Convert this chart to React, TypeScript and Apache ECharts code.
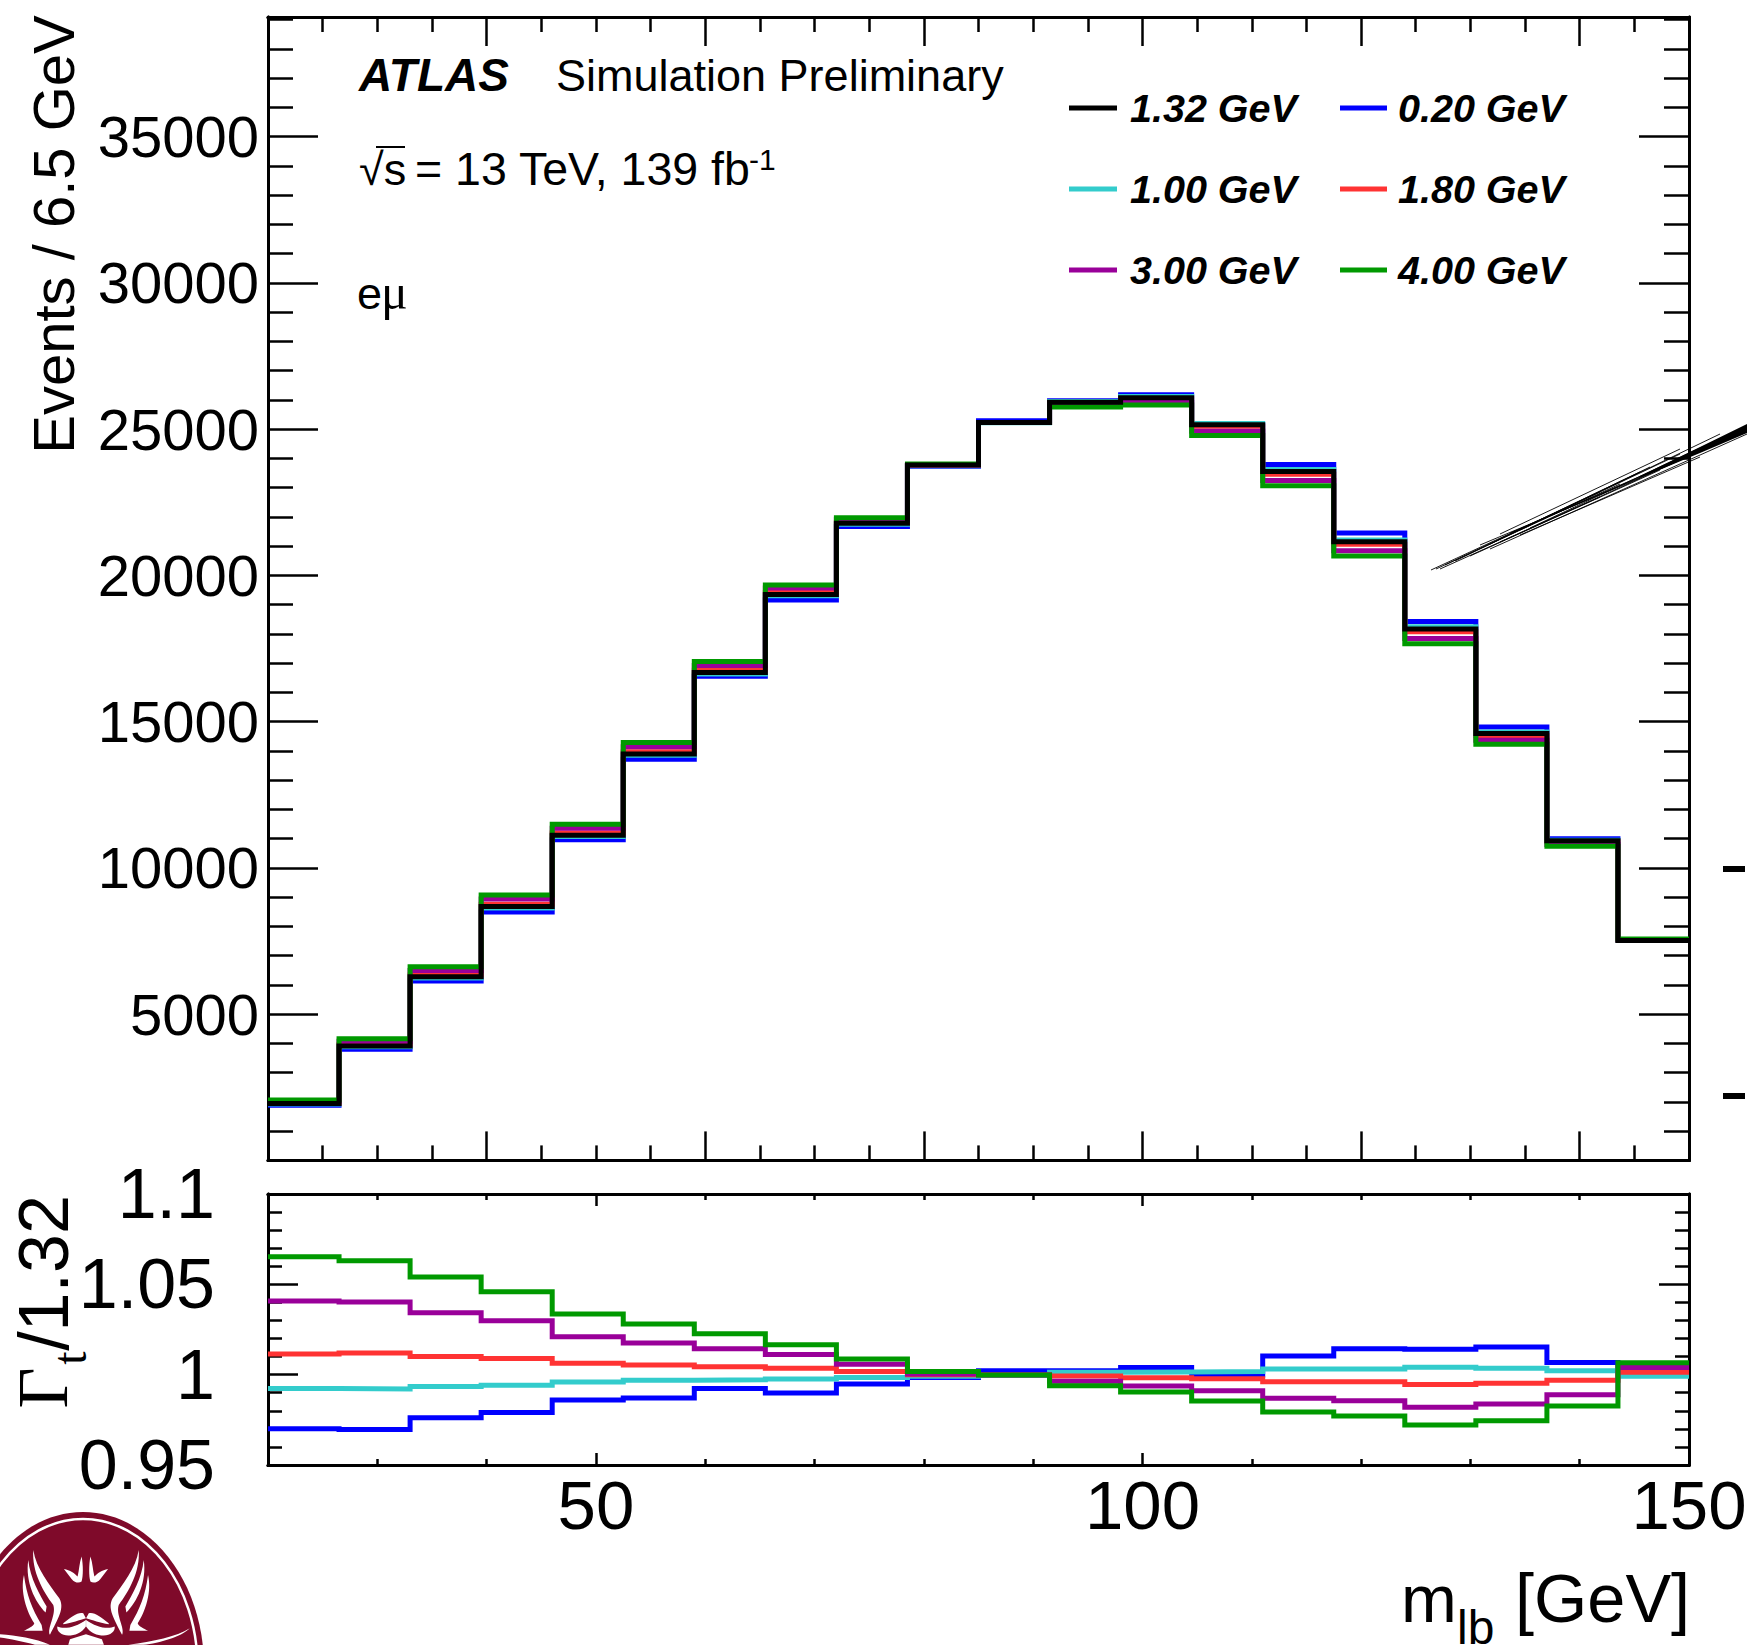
import React, { useEffect, useRef } from "react";
import * as echarts from "echarts";

const binEdges = [20, 26.5, 33, 39.5, 46, 52.5, 59, 65.5, 72, 78.5, 85, 91.5, 98, 104.5, 111, 117.5, 124, 130.5, 137, 143.5, 150];

const legendColA = ["1.32 GeV", "1.00 GeV", "3.00 GeV"];
const legendColB = ["0.20 GeV", "1.80 GeV", "4.00 GeV"];

const events132 = [1942, 3915, 6279, 8677, 11120, 13895, 16680, 19350, 21783, 23770, 25230, 25915, 26075, 25150, 23550, 21146, 18170, 14597, 10925, 7521];
const events020 = [1884, 3796, 6130, 8496, 10964, 13716, 16553, 19155, 21670, 23734, 25286, 25972, 26177, 25145, 23793, 21450, 18424, 14820, 10999, 7536];
const events100 = [1927, 3884, 6238, 8626, 11074, 13852, 16633, 19304, 21750, 23749, 25220, 25949, 26114, 25195, 23623, 21212, 18244, 14648, 10949, 7514];
const events180 = [1964, 3962, 6342, 8754, 11190, 13970, 16753, 19418, 21820, 23770, 25230, 25897, 26031, 25095, 23458, 21064, 18072, 14527, 10891, 7531];
const events300 = [2021, 4072, 6494, 8936, 11354, 14138, 16920, 19565, 21907, 23777, 25225, 25819, 25911, 24926, 23241, 20841, 17841, 14361, 10804, 7550];
const events400 = [2069, 4162, 6619, 9075, 11494, 14284, 17059, 19671, 21973, 23810, 25225, 25757, 25825, 24783, 23063, 20662, 17663, 14225, 10736, 7571];

const ratio020 = [0.9701, 0.9697, 0.9762, 0.9791, 0.986, 0.9871, 0.9924, 0.9899, 0.9948, 0.9985, 1.0022, 1.0022, 1.0039, 0.9998, 1.0103, 1.0144, 1.014, 1.0153, 1.0068, 1.002];
const ratio100 = [0.9924, 0.9921, 0.9934, 0.9941, 0.9959, 0.9969, 0.9972, 0.9976, 0.9985, 0.9991, 0.9996, 1.0013, 1.0015, 1.0018, 1.0031, 1.0031, 1.0041, 1.0035, 1.0022, 0.9991];
const ratio180 = [1.0114, 1.012, 1.0101, 1.0089, 1.0063, 1.0054, 1.0044, 1.0035, 1.0017, 1.0, 1.0, 0.9993, 0.9983, 0.9978, 0.9961, 0.9961, 0.9946, 0.9952, 0.9969, 1.0013];
const ratio300 = [1.0408, 1.0402, 1.0343, 1.0299, 1.021, 1.0175, 1.0144, 1.0111, 1.0057, 1.0003, 0.9998, 0.9963, 0.9937, 0.9911, 0.9869, 0.9856, 0.9819, 0.9838, 0.9889, 1.0039];
const ratio400 = [1.0653, 1.0631, 1.0541, 1.0459, 1.0336, 1.028, 1.0227, 1.0166, 1.0087, 1.0017, 0.9998, 0.9939, 0.9904, 0.9854, 0.9793, 0.9771, 0.9721, 0.9745, 0.9827, 1.0066];

const xMajorTop = [40, 60, 80, 100, 120, 140];
const xMinorTop = [25, 30, 35, 45, 50, 55, 65, 70, 75, 85, 90, 95, 105, 110, 115, 125, 130, 135, 145];
const xLabelsBottom = [50, 100, 150];
const xMajorBottom = [50, 100];
const xMinorBottom = [30, 40, 60, 70, 80, 90, 110, 120, 130, 140];
const yMajorTop = [5000, 10000, 15000, 20000, 25000, 30000, 35000];
const yMinorTop = [1000, 2000, 3000, 4000, 6000, 7000, 8000, 9000, 11000, 12000, 13000, 14000, 16000, 17000, 18000, 19000, 21000, 22000, 23000, 24000, 26000, 27000, 28000, 29000, 31000, 32000, 33000, 34000, 36000, 37000, 38000, 39000];
const yLabelsBottom = [0.95, 1, 1.05, 1.1];
const yMajorBottom = [1, 1.05];
const yMinorBottom = [0.96, 0.97, 0.98, 0.99, 1.01, 1.02, 1.03, 1.04, 1.06, 1.07, 1.08, 1.09];

const SANS = "Liberation Sans";
const SERIF = "Liberation Serif";

const crestD = {
  prongA: "M100 135 C108 190 150 240 178 280 C195 310 175 340 150 390 C140 370 170 330 160 300 C130 260 95 200 100 135Z",
  prongB: "M85 165 C90 220 120 270 140 305 L137 323 C105 290 75 230 85 165Z",
  prongC: "M72 210 C80 270 95 310 125 360 L128 378 L72 378 C85 370 100 365 103 355 C80 320 60 260 72 210Z",
  bird: "M245 155 C250 180 250 215 245 230 C238 235 225 235 215 222 L192 192 C210 195 225 205 233 215 C238 195 238 175 245 155Z",
  brow: "M190 355 C215 335 235 320 250 325 L258 340 C240 345 215 355 190 358Z",
  cheek: "M172 365 C195 375 230 365 258 345 L258 365 C245 385 225 392 205 392 C185 392 170 380 172 365Z",
  wing: "M0 388 C50 392 105 400 150 420 L105 420 C70 410 30 402 0 398Z",
  wingR: "M570 370 C530 395 460 410 385 420 L430 420 C480 415 545 395 570 370Z",
  chest: "M205 420 L210 403 L258 388 L306 403 L312 420Z",
};
Object.entries(crestD).forEach(([k, d]) => {
  echarts.graphic.registerShape("crest_" + k, echarts.graphic.extendPath(d as any, {} as any));
});

function txt(text: string, x: number, base: number, size: number, extra: any = {}) {
  const { family = SANS, weight = "normal", fontStyle = "normal", align = "left" } = extra;
  return {
    type: "text",
    x,
    y: base - 0.3465 * size,
    silent: true,
    style: {
      text,
      fill: "#000",
      font: `${fontStyle} ${weight} ${size}px "${family}"`,
      textAlign: align,
      textVerticalAlign: "middle",
    },
  };
}

function vtxt(text: string, baseX: number, y: number, size: number, extra: any = {}) {
  const { family = SANS, align = "center" } = extra;
  return {
    type: "text",
    x: baseX - 0.3465 * size,
    y,
    rotation: Math.PI / 2,
    silent: true,
    style: {
      text,
      fill: "#000",
      font: `normal normal ${size}px "${family}"`,
      textAlign: align,
      textVerticalAlign: "middle",
    },
  };
}

function stepData(values: number[]) {
  return binEdges.map((e, i) => [e, values[Math.min(i, values.length - 1)]]);
}

const fmt = (v: number) => String(v);
const FRAME = { show: true, onZero: false, lineStyle: { color: "#000", width: 3 } };

function ax(gridIndex: number, position: string, min: number, max: number, ticks: number[], len: number, width: number, labels?: any) {
  return {
    type: "value",
    gridIndex,
    position,
    min,
    max,
    scale: true,
    splitLine: { show: false },
    minorTick: { show: false },
    axisLine: FRAME,
    axisTick: { show: true, inside: true, length: len, customValues: ticks, lineStyle: { color: "#000", width } },
    axisLabel: labels
      ? { show: true, color: "#000", fontFamily: SANS, formatter: fmt, hideOverlap: false, showMinLabel: true, showMaxLabel: true, ...labels }
      : { show: false },
  };
}

function lineSeries(name: string, color: string, values: number[], xi: number, yi: number, z: number) {
  return {
    type: "line",
    name,
    xAxisIndex: xi,
    yAxisIndex: yi,
    data: stepData(values),
    step: "end",
    symbol: "none",
    showSymbol: false,
    clip: true,
    z,
    itemStyle: { color },
    lineStyle: { color, width: 5, join: "miter", cap: "butt" },
    emphasis: { disabled: true },
  };
}

const BLACK = "#000000", BLUE = "#0000ff", CYAN = "#33cccc", RED = "#ff3333", PURPLE = "#990099", GREEN = "#009900";

function legendCol(left: number, data: string[], iconW: number, gap: number) {
  return {
    show: true,
    left,
    top: 85,
    padding: 0,
    orient: "vertical",
    icon: "rect",
    itemWidth: iconW,
    itemHeight: 5,
    itemGap: 35,
    selectedMode: false,
    data,
    textStyle: {
      color: "#000",
      fontFamily: SANS,
      fontWeight: "bold",
      fontStyle: "italic",
      fontSize: 39.5,
      lineHeight: 40,
      padding: [6, 0, 0, gap],
    },
  };
}

export default function App() {
  const ref = useRef<HTMLDivElement>(null);
  useEffect(() => {
    const chart = echarts.init(ref.current!, undefined, { renderer: "svg" });
    const gridA = { left: 268, width: 1421, top: 17, height: 1143.4, containLabel: false, outerBoundsMode: "none" };
    const gridB = { left: 268, width: 1421, top: 1194, height: 271, containLabel: false, outerBoundsMode: "none" };
    const yMaxTop = 39090;

    const scratch = [
      [1431, 570, 1600, 492],
      [1436, 569, 1620, 484],
      [1445, 565, 1640, 472],
      [1440, 569, 1600, 497],
      [1455, 561, 1650, 467],
      [1470, 556, 1660, 470],
      [1490, 544, 1680, 454],
      [1500, 542, 1700, 451],
      [1520, 530, 1720, 434],
      [1530, 528, 1747, 426],
      [1540, 520, 1747, 430],
      [1490, 549, 1747, 434],
      [1510, 533, 1720, 443],
      [1480, 545, 1640, 478],
      [1500, 534, 1680, 449],
      [1520, 535, 1700, 457],
    ].map(([x1, y1, x2, y2]) => ({
      type: "line",
      silent: true,
      shape: { x1, y1, x2, y2 },
      style: { stroke: "#000", lineWidth: 0.9 },
    }));

    const crestPart = (k: string, fill = "#fff") => ({ type: "crest_" + k, silent: true, style: { fill } });
    const half = ["prongA", "prongB", "prongC", "bird", "brow", "cheek"];

    chart.setOption({
      animation: false,
      backgroundColor: "#fff",
      grid: [gridA, gridB, gridA, gridB],
      xAxis: [
        ax(0, "bottom", 20, 150, xMajorTop, 29, 2.5),
        ax(0, "top", 20, 150, xMajorTop, 29, 2.5),
        ax(1, "bottom", 20, 150, xMajorBottom, 12, 2.5, { customValues: xLabelsBottom, fontSize: 69, margin: 6 }),
        ax(1, "top", 20, 150, xMajorBottom, 12, 2.5),
        ax(2, "bottom", 20, 150, xMinorTop, 15, 2.5),
        ax(2, "top", 20, 150, xMinorTop, 15, 2.5),
        ax(3, "bottom", 20, 150, xMinorBottom, 6, 2.5),
        ax(3, "top", 20, 150, xMinorBottom, 6, 2.5),
      ],
      yAxis: [
        ax(0, "left", 0, yMaxTop, yMajorTop, 50, 2.5, { customValues: yMajorTop, fontSize: 58, margin: 9, padding: [2, 0, 0, 0] }),
        ax(0, "right", 0, yMaxTop, yMajorTop, 50, 2.5),
        ax(1, "left", 0.95, 1.1, yMajorBottom, 30, 2.5, { customValues: yLabelsBottom, fontSize: 70, margin: 53 }),
        ax(1, "right", 0.95, 1.1, yMajorBottom, 30, 2.5),
        ax(2, "left", 0, yMaxTop, yMinorTop, 25, 2.5),
        ax(2, "right", 0, yMaxTop, yMinorTop, 25, 2.5),
        ax(3, "left", 0.95, 1.1, yMinorBottom, 14, 2.5),
        ax(3, "right", 0.95, 1.1, yMinorBottom, 14, 2.5),
      ],
      legend: [legendCol(1069, legendColA, 48, 8), legendCol(1340, legendColB, 47, 6)],
      series: [
        lineSeries(legendColB[0], BLUE, events020, 0, 0, 2),
        lineSeries(legendColA[1], CYAN, events100, 0, 0, 3),
        lineSeries(legendColB[1], RED, events180, 0, 0, 4),
        lineSeries(legendColA[2], PURPLE, events300, 0, 0, 5),
        lineSeries(legendColB[2], GREEN, events400, 0, 0, 6),
        lineSeries(legendColA[0], BLACK, events132, 0, 0, 7),
        lineSeries(legendColB[0], BLUE, ratio020, 2, 2, 2),
        lineSeries(legendColA[1], CYAN, ratio100, 2, 2, 3),
        lineSeries(legendColB[1], RED, ratio180, 2, 2, 4),
        lineSeries(legendColA[2], PURPLE, ratio300, 2, 2, 5),
        lineSeries(legendColB[2], GREEN, ratio400, 2, 2, 6),
      ],
      graphic: [
        {
          type: "group",
          silent: true,
          children: [
            vtxt("Events / 6.5 GeV", 74, 234.5, 58),
            vtxt("/1.32", 68, 1273, 70),
            vtxt("Γ", 68, 1388, 71, { family: SERIF }),
            vtxt("t", 86, 1358, 48, { family: SERIF }),
            txt("ATLAS", 359, 91, 46, { weight: "bold", fontStyle: "italic" }),
            txt("Simulation Preliminary", 556, 91, 45),
            txt("√s", 359, 185.5, 45),
            { type: "line", silent: true, shape: { x1: 376, y1: 147, x2: 405, y2: 147 }, style: { stroke: "#000", lineWidth: 2 } },
            txt("= 13 TeV, 139 fb", 415, 185.5, 46.5),
            txt("-1", 749, 170, 30),
            txt("e", 357, 309, 45),
            txt("μ", 381, 309, 50, { family: SERIF }),
            txt("m", 1401, 1622, 67),
            txt("lb", 1457, 1644, 48),
            txt("[GeV]", 1515, 1622, 68.5),
            { type: "rect", silent: true, shape: { x: 1723, y: 866, width: 22, height: 6 }, style: { fill: "#000" } },
            { type: "rect", silent: true, shape: { x: 1723, y: 1093, width: 22, height: 6 }, style: { fill: "#000" } },
            ...scratch,
            {
              type: "polygon",
              silent: true,
              shape: { points: [[1640, 476], [1700, 447], [1747, 424], [1747, 433], [1700, 453], [1640, 478]] },
              style: { fill: "#000" },
            },
            { type: "ellipse", silent: true, shape: { cx: 83, cy: 1667, rx: 121, ry: 155 }, style: { fill: "#7f0a2a" } },
            { type: "ellipse", silent: true, shape: { cx: 83, cy: 1667, rx: 114.5, ry: 148 }, style: { fill: "none", stroke: "#fff", lineWidth: 2.5 } },
            {
              type: "group",
              x: 0,
              y: 1505,
              scaleX: 1 / 3,
              scaleY: 1 / 3,
              silent: true,
              children: [
                ...half.map((k) => crestPart(k)),
                { type: "group", x: 516, scaleX: -1, silent: true, children: half.map((k) => crestPart(k)) },
                crestPart("wing"),
                crestPart("wingR"),
                crestPart("chest"),
              ],
            },
          ],
        },
      ],
    } as any);
    return () => chart.dispose();
  }, []);
  return <div ref={ref} style={{ position: "absolute", left: 0, top: 0, width: 1747, height: 1645 }} />;
}
